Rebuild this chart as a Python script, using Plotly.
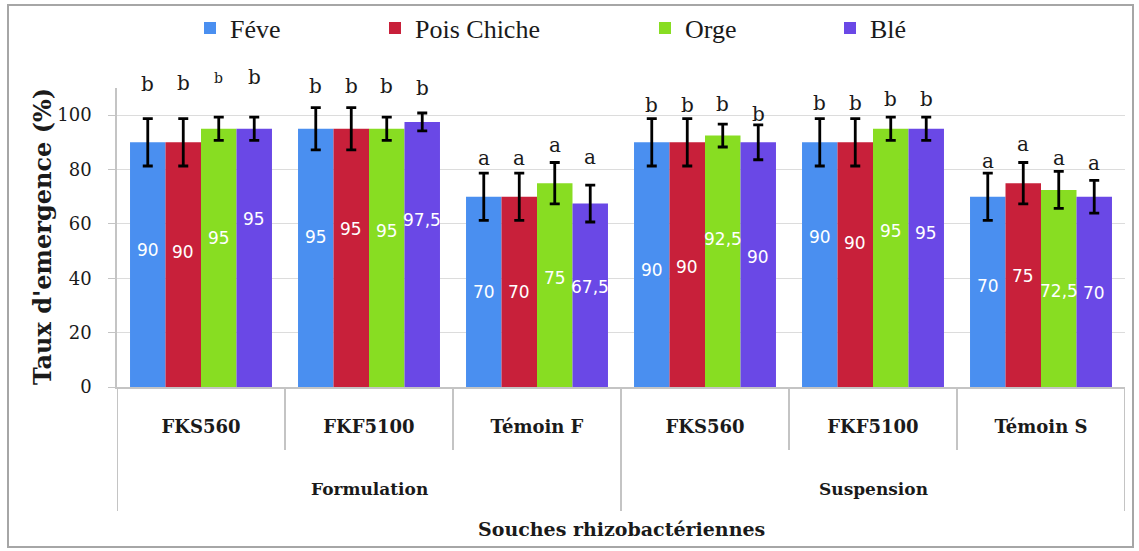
import plotly.graph_objects as go

# Emergence rate (%) per crop, for each rhizobacterial strain and application mode
group_names = ["Formulation", "Suspension"]
groups = ["Formulation", "Formulation", "Formulation", "Suspension", "Suspension", "Suspension"]
strains = ["FKS560", "FKF5100", "Témoin F", "FKS560", "FKF5100", "Témoin S"]

series_names = ["Féve", "Pois Chiche", "Orge", "Blé"]
feve = [90, 95, 70, 90, 90, 70]
pois_chiche = [90, 95, 70, 90, 90, 75]
orge = [95, 95, 75, 92.5, 95, 72.5]
ble = [95, 97.5, 67.5, 90, 95, 70]

err_feve = [8.7, 7.8, 8.7, 8.7, 8.7, 8.7]
err_pois_chiche = [8.7, 7.8, 8.7, 8.7, 8.7, 7.6]
err_orge = [4.3, 4.3, 7.6, 4.2, 4.3, 6.8]
err_ble = [4.3, 3.3, 6.8, 6.4, 4.3, 6.0]

letters_feve = ["b", "b", "a", "b", "b", "a"]
letters_pois_chiche = ["b", "b", "a", "b", "b", "a"]
letters_orge = ["b", "b", "a", "b", "b", "a"]
letters_ble = ["b", "b", "a", "b", "b", "a"]

values = [feve, pois_chiche, orge, ble]
errors = [err_feve, err_pois_chiche, err_orge, err_ble]
letters = [letters_feve, letters_pois_chiche, letters_orge, letters_ble]

colors = ["#4a8ff0", "#c8203a", "#88dd22", "#6a48e6"]

# hand-placed offsets (px) of the letters above the error bars and of the value labels
letter_lift = [
    [35, 22, 15, 14, 16, 12],
    [36, 22, 15, 14, 16, 18],
    [39, 31, 17, 20, 18, 13],
    [40, 25, 28, 11, 18, 17],
]
letter_size = [
    [20, 20, 20, 20, 20, 20],
    [20, 20, 20, 20, 20, 20],
    [14, 20, 20, 20, 20, 20],
    [20, 20, 20, 20, 20, 20],
]
label_lift = [
    [15, 21, 0, -5, 28, 6],
    [13, 29, 0, -2, 22, 9],
    [20, 27, 7, 22, 27, -3],
    [39, 34, 8, 8, 25, -1],
]

BARGAP = 0.155
n_series = len(series_names)
n_cat = len(strains)
bar_w = (1 - BARGAP) / n_series
xpos = list(range(n_cat))

serif = "DejaVu Serif, Liberation Serif, serif"
legend_serif = "Liberation Serif, Times New Roman, serif"
sans = "DejaVu Sans, Liberation Sans, sans-serif"
ink = "#1a1a1a"

plot_l, plot_r, plot_t, plot_b = 117, 1125, 88, 387
pw, ph = plot_r - plot_l, plot_b - plot_t


def px2paper_x(px):
    return (px - plot_l) / pw


def px2paper_y(py):
    return (plot_b - py) / ph


fig = go.Figure()

legend_keys = ["legend", "legend2", "legend3", "legend4"]
for s in range(n_series):
    fig.add_trace(go.Bar(
        name=series_names[s],
        x=xpos,
        y=values[s],
        marker=dict(color=colors[s], line=dict(width=0)),
        error_y=dict(type="data", array=errors[s], color="black", thickness=2.8, width=5),
        legend=legend_keys[s],
        customdata=[f"{g} / {c}" for g, c in zip(groups, strains)],
        hovertemplate="%{customdata}<br>%{y}<extra>" + series_names[s] + "</extra>",
    ))


def fmt(v):
    return (f"{v:g}").replace(".", ",")


annotations = []
for s in range(n_series):
    for i in range(n_cat):
        xc = i + (s - (n_series - 1) / 2) * bar_w
        v = values[s][i]
        annotations.append(dict(
            x=xc, y=v / 2, xref="x", yref="y", text=fmt(v), showarrow=False,
            xanchor="center", yshift=label_lift[s][i],
            font=dict(family=sans, size=17, color="white"),
        ))
        annotations.append(dict(
            x=xc, y=v + errors[s][i], xref="x", yref="y", text=letters[s][i],
            showarrow=False, xanchor="center", yshift=letter_lift[s][i],
            font=dict(family=serif, size=letter_size[s][i], color=ink),
        ))

# group labels under the strain labels
for g, name in enumerate(group_names):
    members = [i for i in range(n_cat) if groups[i] == name]
    annotations.append(dict(
        x=sum(members) / len(members), y=px2paper_y(489), xref="x", yref="paper",
        text=f"<b>{name}</b>", showarrow=False, xanchor="center", yanchor="middle",
        font=dict(family=serif, size=17, color=ink),
    ))

# axis titles
annotations.append(dict(
    x=0.5, y=px2paper_y(529), xref="paper", yref="paper",
    text="<b>Souches rhizobactériennes</b>", showarrow=False,
    xanchor="center", yanchor="middle",
    font=dict(family=serif, size=19, color=ink),
))
annotations.append(dict(
    x=px2paper_x(42), y=px2paper_y(237), xref="paper", yref="paper",
    text="<b>Taux d'emergence (%)</b>", showarrow=False, textangle=-90,
    xanchor="center", yanchor="middle",
    font=dict(family=serif, size=24, color=ink),
))

# separators between strains (short) and between groups (long)
shapes = []
for b in range(n_cat + 1):
    xb = b - 0.5
    outer = b == 0 or b == n_cat or groups[b - 1] != groups[b]
    shapes.append(dict(
        type="line", xref="x", yref="paper", x0=xb, x1=xb,
        y0=0, y1=px2paper_y(511 if outer else 450),
        line=dict(color="#c4c4c4", width=2),
    ))
shapes.append(dict(
    type="rect", xref="paper", yref="paper",
    x0=px2paper_x(8), x1=px2paper_x(1133), y0=px2paper_y(547), y1=px2paper_y(5),
    line=dict(color="#a6a6a6", width=2), fillcolor="rgba(0,0,0,0)", layer="below",
))

legend_text_x = [227, 412, 682, 867]
legend_layout = {}
for k, key in enumerate(legend_keys):
    legend_layout[key] = dict(
        x=px2paper_x(legend_text_x[k] - 37), y=px2paper_y(28),
        xanchor="left", yanchor="middle", orientation="h",
        font=dict(family=legend_serif, size=26, color=ink),
        bgcolor="rgba(0,0,0,0)", itemwidth=30,
    )

fig.update_layout(
    width=1139, height=551,
    margin=dict(l=plot_l, r=1139 - plot_r, t=plot_t, b=551 - plot_b, autoexpand=False),
    font=dict(family=serif, color=ink),
    barmode="group", bargap=BARGAP, bargroupgap=0,
    plot_bgcolor="white", paper_bgcolor="white",
    annotations=annotations,
    shapes=shapes,
    showlegend=True,
    **legend_layout,
    xaxis=dict(
        range=[-0.5, n_cat - 0.5],
        tickvals=xpos, ticktext=[f"<b>{s}</b>" for s in strains],
        tickfont=dict(family=serif, size=18, color=ink),
        ticks="", ticklabelstandoff=22,
        showgrid=False, zeroline=False,
        showline=True, linecolor="#c4c4c4", linewidth=2,
    ),
    yaxis=dict(
        range=[0, 110], tickvals=[0, 20, 40, 60, 80, 100],
        showgrid=True, gridcolor="#dcdcdc", gridwidth=1,
        showline=True, linecolor="#c4c4c4", linewidth=1.5,
        ticks="outside", ticklen=7, tickcolor="#c4c4c4",
        zeroline=False, ticklabelstandoff=13,
        tickfont=dict(family=serif, size=18, color=ink),
    ),
)

fig.write_html("out.html")
